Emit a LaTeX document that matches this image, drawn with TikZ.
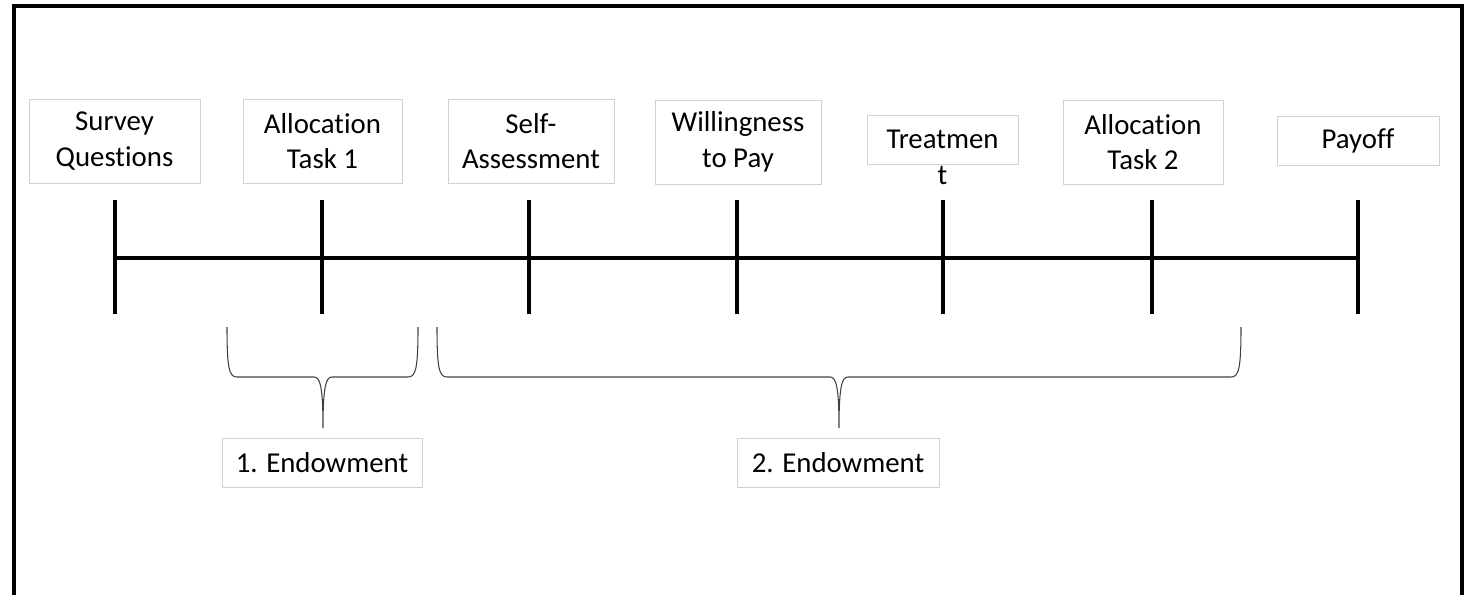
\documentclass[tikz,border=0pt]{standalone}
\usepackage{fontspec}
\setmainfont{Carlito}[RawFeature={-liga;-clig;-calt;-dlig}]
\usepackage{tikz}
\usetikzlibrary{positioning, calc}
\usepackage{xcolor}
\tikzstyle{stage} = [%
  rectangle,
  draw=black!18,
  line width=0.5pt,
  fill=white,
  align=center,
  text centered,
  inner sep=0pt,
  minimum height=1.68cm,
  font=\fontsize{16.4}{20.3}\selectfont
]

\begin{document}
\begin{tikzpicture}[%
  x=0.02cm, y=-0.02cm,
  frame/.style={draw=black, line width=1.9pt},
  axis/.style={draw=black, line width=1.8pt},
  brace/.style={draw=black!75, line width=0.6pt},
  short/.style={minimum height=0.98cm}
]

  \useasboundingbox (0,0) rectangle (1468,595);

  % Frame
  \draw[frame] (14,595) -- (14,6) -- (1462,6) -- (1462,595);

  % Nodes
  \node[stage,minimum width=3.42cm] (S1) at (114.5,141) {Survey\\Questions};
  \node[stage,minimum width=3.18cm] (S2) at (322.5,141) {Allocation\\Task 1};
  \node[stage,minimum width=3.32cm] (S3) at (531,141) {Self-\\Assessment};
  \node[stage,minimum width=3.32cm] (S4) at (738,142) {Willingness\\to Pay};
  \node[stage,short,minimum width=3.02cm,
    label={[anchor=base,label distance=0.4cm,inner sep=0pt,font=\fontsize{16.4}{20.3}\selectfont]below:t}]
    (S5) at (942.5,139.5) {\raisebox{-2pt}{Treatmen}};
  \node[stage,minimum width=3.20cm] (S6) at (1143,142) {Allocation\\Task 2};
  \node[stage,short,minimum width=3.24cm] (S7) at (1358,141) {Payoff};

  \node[stage,short,minimum width=4.00cm] (E1) at (322,462.5) {1. Endowment};
  \node[stage,short,minimum width=4.04cm] (E2) at (838,462.5) {2. Endowment};

  % Timeline
  \foreach \x [count=\i] in {115,322,529,737,943,1152,1358}
    \coordinate (T\i) at (\x,258);
  \draw[axis] (T1) -- (T7);
  \foreach \i in {1,...,7}
    \draw[axis] ($(T\i)+(0,-58)$) -- ($(T\i)+(0,56)$);

  % Braces
  \coordinate (B1) at (323,428);
  \coordinate (B2) at (839,428);
  \draw[brace] (227,327) .. controls (227,368) and (229,377) .. (237,377)
    -- (314,377) .. controls (320,377) and (323,386) .. (B1)
    .. controls (323,386) and (326,377) .. (332,377)
    -- (408,377) .. controls (416,377) and (418,368) .. (418,327);
  \draw[brace] (437,327) .. controls (437,368) and (439,377) .. (447,377)
    -- (830,377) .. controls (836,377) and (839,386) .. (B2)
    .. controls (839,386) and (842,377) .. (848,377)
    -- (1231,377) .. controls (1239,377) and (1241,368) .. (1241,327);

\end{tikzpicture}
\end{document}
